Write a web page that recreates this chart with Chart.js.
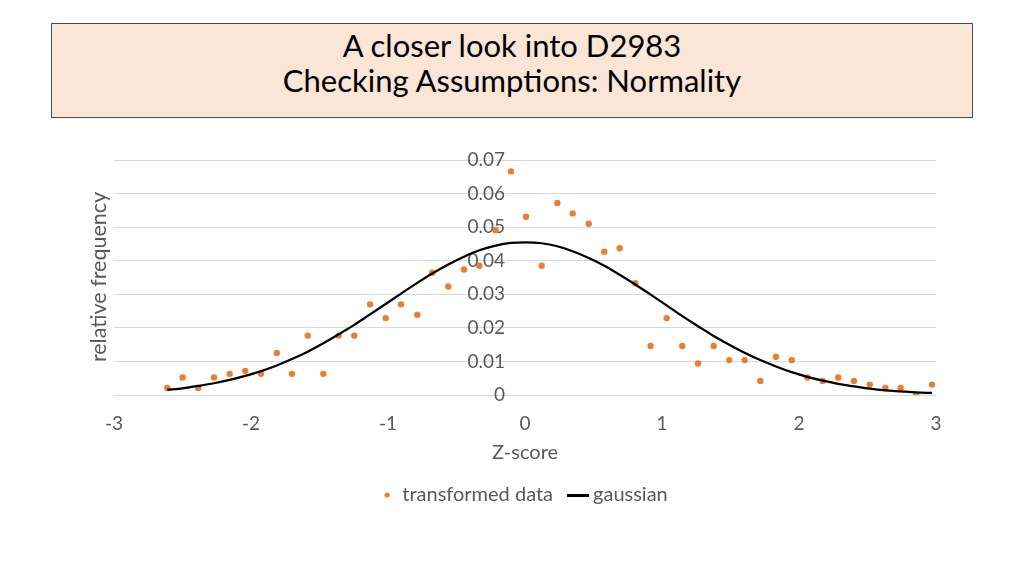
<!DOCTYPE html>
<html>
<head>
<meta charset="utf-8">
<script src="https://cdn.jsdelivr.net/npm/chart.js@4"></script>
<style>
  html, body { margin: 0; padding: 0; background: #fff; }
  #wrap { position: relative; width: 1024px; height: 576px; overflow: hidden; }
  #title {
    position: absolute; left: 51px; top: 23px; width: 920px; height: 89px;
    background: #fbe5d6; border: 1px solid #4a4a4a;
    font-family: Lato, "Open Sans", sans-serif; font-size: 31px; color: #000;
    text-align: center; line-height: 35px; padding-top: 4px;
  }
  canvas { position: absolute; left: 0; top: 0; }
</style>
</head>
<body>
<div id="wrap">
  <div id="title">A closer look into D2983<br>Checking Assumptions: Normality</div>
  <canvas id="chart" width="1024" height="576"></canvas>
</div>
<script>
// z-scores of the bins
const zScores = [-2.611, -2.499, -2.385, -2.270, -2.156, -2.042, -1.927, -1.812, -1.701, -1.586,
                 -1.472, -1.360, -1.246, -1.131, -1.017, -0.905, -0.786, -0.677, -0.560, -0.445,
                 -0.333, -0.214, -0.102, 0.007, 0.122, 0.236, 0.348, 0.465, 0.579, 0.691,
                 0.805, 0.917, 1.034, 1.148, 1.263, 1.377, 1.491, 1.603, 1.718, 1.832,
                 1.947, 2.061, 2.173, 2.287, 2.401, 2.516, 2.630, 2.742, 2.856, 2.971];

const transformed = [0.0021, 0.0052, 0.0021, 0.0052, 0.0063, 0.0072, 0.0063, 0.0125, 0.0063, 0.0177,
                     0.0063, 0.0177, 0.0177, 0.0270, 0.0229, 0.0270, 0.0239, 0.0364, 0.0323, 0.0374,
                     0.0385, 0.0491, 0.0666, 0.0531, 0.0385, 0.0572, 0.0541, 0.0510, 0.0427, 0.0437,
                     0.0333, 0.0146, 0.0229, 0.0146, 0.0094, 0.0146, 0.0104, 0.0104, 0.0042, 0.0114,
                     0.0104, 0.0052, 0.0042, 0.0052, 0.0042, 0.0031, 0.0021, 0.0021, 0.0000, 0.0031];

const gaussian = [0.0015, 0.0020, 0.0027, 0.0035, 0.0045, 0.0057, 0.0071, 0.0088, 0.0107, 0.0129,
                  0.0154, 0.0181, 0.0209, 0.0240, 0.0271, 0.0302, 0.0334, 0.0362, 0.0389, 0.0412,
                  0.0431, 0.0445, 0.0453, 0.0455, 0.0452, 0.0443, 0.0428, 0.0408, 0.0385, 0.0358,
                  0.0329, 0.0299, 0.0267, 0.0235, 0.0205, 0.0176, 0.0150, 0.0126, 0.0104, 0.0085,
                  0.0068, 0.0054, 0.0043, 0.0033, 0.0026, 0.0019, 0.0014, 0.0011, 0.0008, 0.0006];

const xTicks = [-3, -2, -1, 0, 1, 2, 3];
const yTicks = [0, 0.01, 0.02, 0.03, 0.04, 0.05, 0.06, 0.07];

const FONT = "Lato, 'Open Sans', sans-serif";
const GREY = "#595959";
const ORANGE = "#ed7d31";

// small legend markers
function marker(w, h, draw) {
    const c = document.createElement("canvas");
    c.width = w; c.height = h;
    draw(c.getContext("2d"));
    return c;
}
const dotMark = marker(6, 6, g => {
    g.fillStyle = ORANGE;
    g.beginPath(); g.arc(3, 3, 2.6, 0, Math.PI * 2); g.fill();
});
const lineMark = marker(22, 3, g => {
    g.fillStyle = "#000";
    g.fillRect(0, 0, 22, 3);
});

const yTitle = {
    id: "yTitle",
    afterDraw(c) {
        const ctx = c.ctx;
        ctx.save();
        ctx.translate(99, 277);
        ctx.rotate(-Math.PI / 2);
        ctx.font = "21.5px " + FONT;
        ctx.fillStyle = GREY;
        ctx.textAlign = "center";
        ctx.textBaseline = "middle";
        ctx.fillText("relative frequency", 0, 0);
        ctx.restore();
    }
};

new Chart(document.getElementById("chart"), {
    type: "scatter",
    data: {
        datasets: [
            {
                label: "transformed data",
                data: zScores.map((z, i) => ({ x: z, y: transformed[i] })),
                backgroundColor: ORANGE,
                borderColor: ORANGE,
                pointRadius: 3.2,
                pointBorderWidth: 0,
                order: 2
            },
            {
                label: "gaussian",
                type: "line",
                data: zScores.map((z, i) => ({ x: z, y: gaussian[i] })),
                borderColor: "#000",
                backgroundColor: "#000",
                borderWidth: 2.25,
                pointRadius: 0,
                cubicInterpolationMode: "monotone",
                fill: false,
                order: 1
            }
        ]
    },
    options: {
        responsive: false,
        animation: false,
        layout: { padding: { left: 114, right: 88, top: 160, bottom: 61 } },
        plugins: {
            legend: {
                position: "bottom",
                labels: {
                    usePointStyle: true,
                    boxWidth: 10,
                    color: GREY,
                    font: { family: FONT, size: 20 },
                    padding: 20,
                    sort: (a, b) => a.datasetIndex - b.datasetIndex,
                    generateLabels: ch => Chart.defaults.plugins.legend.labels.generateLabels(ch).map(l => {
                        l.pointStyle = l.datasetIndex === 0 ? dotMark : lineMark;
                        return l;
                    })
                }
            },
            tooltip: { enabled: false }
        },
        scales: {
            x: {
                type: "linear",
                min: -3, max: 3,
                afterBuildTicks: s => { s.ticks = xTicks.map(v => ({ value: v })); },
                afterFit: s => { s.height = 70; },
                grid: { display: false, drawTicks: false },
                border: { display: false },
                ticks: { color: GREY, font: { family: FONT, size: 19 }, padding: 17 },
                title: { display: true, text: "Z-score", color: GREY, font: { family: FONT, size: 20 }, padding: { top: 0, bottom: 0 } }
            },
            y: {
                position: "center",
                min: 0, max: 0.07,
                afterBuildTicks: s => { s.ticks = yTicks.map(v => ({ value: v })); },
                grid: { color: "#d9d9d9", lineWidth: 1, drawTicks: false },
                border: { display: false },
                ticks: {
                    color: GREY, font: { family: FONT, size: 19 }, padding: 20,
                    callback: v => String(+v.toFixed(2))
                }
            }
        }
    },
    plugins: [yTitle]
});
</script>
</body>
</html>
